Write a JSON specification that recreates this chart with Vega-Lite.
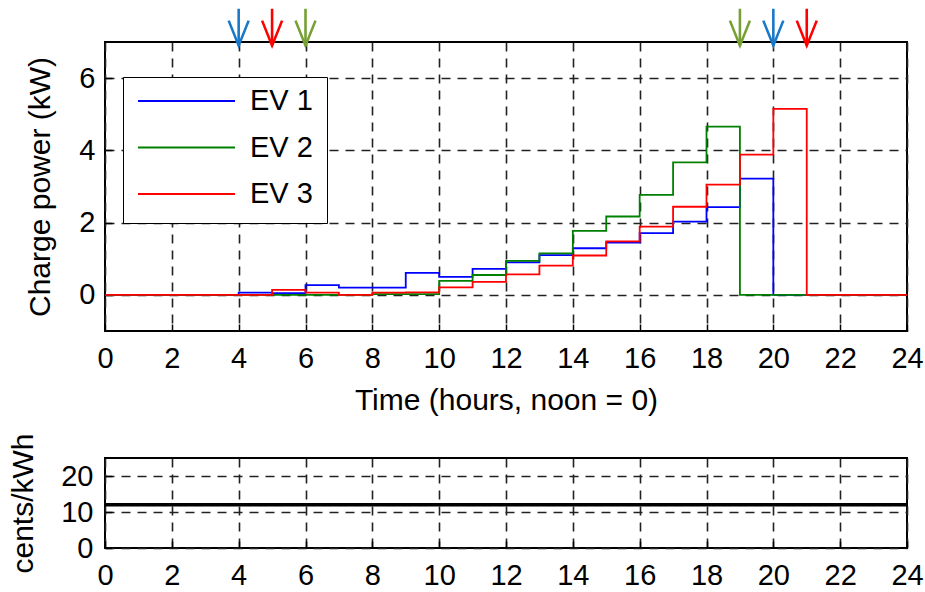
{
  "$schema": "https://vega.github.io/schema/vega-lite/v6.json",
  "padding": {"left": 7, "top": 6, "right": 0, "bottom": 0},
  "background": "white",
  "datasets": {
    "power": [
      {"hour": 0, "ev": "EV 1", "kw": 0}, {"hour": 1, "ev": "EV 1", "kw": 0}, {"hour": 2, "ev": "EV 1", "kw": 0}, {"hour": 3, "ev": "EV 1", "kw": 0},
      {"hour": 4, "ev": "EV 1", "kw": 0.06}, {"hour": 5, "ev": "EV 1", "kw": 0.05}, {"hour": 6, "ev": "EV 1", "kw": 0.27}, {"hour": 7, "ev": "EV 1", "kw": 0.2},
      {"hour": 8, "ev": "EV 1", "kw": 0.2}, {"hour": 9, "ev": "EV 1", "kw": 0.61}, {"hour": 10, "ev": "EV 1", "kw": 0.5}, {"hour": 11, "ev": "EV 1", "kw": 0.72},
      {"hour": 12, "ev": "EV 1", "kw": 0.9}, {"hour": 13, "ev": "EV 1", "kw": 1.1}, {"hour": 14, "ev": "EV 1", "kw": 1.29}, {"hour": 15, "ev": "EV 1", "kw": 1.45},
      {"hour": 16, "ev": "EV 1", "kw": 1.71}, {"hour": 17, "ev": "EV 1", "kw": 2.03}, {"hour": 18, "ev": "EV 1", "kw": 2.43}, {"hour": 19, "ev": "EV 1", "kw": 3.22},
      {"hour": 20, "ev": "EV 1", "kw": 0}, {"hour": 21, "ev": "EV 1", "kw": 0}, {"hour": 22, "ev": "EV 1", "kw": 0}, {"hour": 23, "ev": "EV 1", "kw": 0}, {"hour": 24, "ev": "EV 1", "kw": 0},
      {"hour": 0, "ev": "EV 2", "kw": 0}, {"hour": 1, "ev": "EV 2", "kw": 0}, {"hour": 2, "ev": "EV 2", "kw": 0}, {"hour": 3, "ev": "EV 2", "kw": 0},
      {"hour": 4, "ev": "EV 2", "kw": 0}, {"hour": 5, "ev": "EV 2", "kw": 0}, {"hour": 6, "ev": "EV 2", "kw": 0}, {"hour": 7, "ev": "EV 2", "kw": 0},
      {"hour": 8, "ev": "EV 2", "kw": 0.02}, {"hour": 9, "ev": "EV 2", "kw": 0.02}, {"hour": 10, "ev": "EV 2", "kw": 0.39}, {"hour": 11, "ev": "EV 2", "kw": 0.55},
      {"hour": 12, "ev": "EV 2", "kw": 0.94}, {"hour": 13, "ev": "EV 2", "kw": 1.15}, {"hour": 14, "ev": "EV 2", "kw": 1.77}, {"hour": 15, "ev": "EV 2", "kw": 2.17},
      {"hour": 16, "ev": "EV 2", "kw": 2.77}, {"hour": 17, "ev": "EV 2", "kw": 3.67}, {"hour": 18, "ev": "EV 2", "kw": 4.66}, {"hour": 19, "ev": "EV 2", "kw": 0},
      {"hour": 20, "ev": "EV 2", "kw": 0}, {"hour": 21, "ev": "EV 2", "kw": 0}, {"hour": 22, "ev": "EV 2", "kw": 0}, {"hour": 23, "ev": "EV 2", "kw": 0}, {"hour": 24, "ev": "EV 2", "kw": 0},
      {"hour": 0, "ev": "EV 3", "kw": 0}, {"hour": 1, "ev": "EV 3", "kw": 0}, {"hour": 2, "ev": "EV 3", "kw": 0}, {"hour": 3, "ev": "EV 3", "kw": 0},
      {"hour": 4, "ev": "EV 3", "kw": 0}, {"hour": 5, "ev": "EV 3", "kw": 0.14}, {"hour": 6, "ev": "EV 3", "kw": 0.06}, {"hour": 7, "ev": "EV 3", "kw": 0},
      {"hour": 8, "ev": "EV 3", "kw": 0.06}, {"hour": 9, "ev": "EV 3", "kw": 0.07}, {"hour": 10, "ev": "EV 3", "kw": 0.21}, {"hour": 11, "ev": "EV 3", "kw": 0.36},
      {"hour": 12, "ev": "EV 3", "kw": 0.57}, {"hour": 13, "ev": "EV 3", "kw": 0.81}, {"hour": 14, "ev": "EV 3", "kw": 1.09}, {"hour": 15, "ev": "EV 3", "kw": 1.48},
      {"hour": 16, "ev": "EV 3", "kw": 1.89}, {"hour": 17, "ev": "EV 3", "kw": 2.44}, {"hour": 18, "ev": "EV 3", "kw": 3.05}, {"hour": 19, "ev": "EV 3", "kw": 3.88},
      {"hour": 20, "ev": "EV 3", "kw": 5.15}, {"hour": 21, "ev": "EV 3", "kw": 0}, {"hour": 22, "ev": "EV 3", "kw": 0}, {"hour": 23, "ev": "EV 3", "kw": 0}, {"hour": 24, "ev": "EV 3", "kw": 0}
    ],
    "arrows": [
      {"hour": 4, "ev": "EV 1", "event": "arrival"},
      {"hour": 5, "ev": "EV 3", "event": "arrival"},
      {"hour": 6, "ev": "EV 2", "event": "arrival"},
      {"hour": 19, "ev": "EV 2", "event": "departure"},
      {"hour": 20, "ev": "EV 1", "event": "departure"},
      {"hour": 21, "ev": "EV 3", "event": "departure"}
    ],
    "price": [
      {"hour": 0, "price": 12},
      {"hour": 24, "price": 12}
    ]
  },
  "config": {
    "font": "Liberation Sans",
    "view": {"stroke": "black", "strokeWidth": 2},
    "axis": {
      "labelFont": "Liberation Sans",
      "titleFont": "Liberation Sans",
      "labelFontSize": 29,
      "titleFontSize": 30,
      "titleFontWeight": "normal",
      "labelColor": "black",
      "titleColor": "black",
      "labelFlush": false,
      "labelOverlap": false,
      "domain": false,
      "grid": true,
      "gridColor": "#222222",
      "gridDash": [9, 7],
      "gridWidth": 1.6,
      "gridOpacity": 1,
      "ticks": true,
      "tickColor": "black",
      "tickWidth": 1.5,
      "tickSize": -7,
      "labelPadding": 20
    },
    "legend": {
      "labelFont": "Liberation Sans",
      "labelFontSize": 29,
      "labelColor": "black"
    }
  },
  "spacing": 15,
  "vconcat": [
    {
      "width": 802,
      "height": 289,
      "resolve": {"scale": {"color": "independent"}},
      "layer": [
        {
          "data": {"name": "power"},
          "mark": {"type": "line", "interpolate": "step-after", "strokeWidth": 1.8},
          "encoding": {
            "x": {"field": "hour", "type": "quantitative", "scale": {"domain": [0, 24], "nice": false},
                  "axis": {"values": [0, 2, 4, 6, 8, 10, 12, 14, 16, 18, 20, 22, 24], "title": "Time (hours, noon = 0)", "titlePadding": 12}},
            "y": {"field": "kw", "type": "quantitative", "scale": {"domain": [-1, 7], "nice": false, "zero": false},
                  "axis": {"values": [0, 2, 4, 6], "title": "Charge power (kW)", "titlePadding": 23, "labelPadding": 17}},
            "color": {"field": "ev", "type": "nominal",
                      "scale": {"domain": ["EV 1", "EV 2", "EV 3"], "range": ["#0000ff", "#008000", "#ff0000"]},
                      "legend": {"title": null, "orient": "none", "legendX": 18, "legendY": 35,
                                 "symbolType": "stroke", "symbolSize": 9409, "symbolStrokeWidth": 2,
                                 "clipHeight": 20, "rowPadding": 17.5, "labelOffset": 14,
                                 "padding": 14, "fillColor": "white", "strokeColor": "black"}}
          }
        },
        {
          "data": {"name": "arrows"},
          "mark": {"type": "rule", "strokeWidth": 2.6, "clip": false},
          "encoding": {
            "x": {"field": "hour", "type": "quantitative", "scale": {"domain": [0, 24], "nice": false}},
            "y": {"datum": 6.9, "type": "quantitative", "scale": {"domain": [-1, 7], "nice": false, "zero": false}},
            "y2": {"datum": 7.92},
            "color": {"field": "ev", "type": "nominal",
                      "scale": {"domain": ["EV 1", "EV 2", "EV 3"], "range": ["#1a78c8", "#77a034", "#ff0000"]},
                      "legend": null}
          }
        },
        {
          "data": {"name": "arrows"},
          "mark": {"type": "point", "shape": "M -1 -2.5 L 0 0 L 1 -2.5", "filled": false, "size": 400, "strokeWidth": 2.6, "opacity": 1, "clip": false},
          "encoding": {
            "x": {"field": "hour", "type": "quantitative", "scale": {"domain": [0, 24], "nice": false}},
            "y": {"datum": 6.9, "type": "quantitative", "scale": {"domain": [-1, 7], "nice": false, "zero": false}},
            "color": {"field": "ev", "type": "nominal",
                      "scale": {"domain": ["EV 1", "EV 2", "EV 3"], "range": ["#1a78c8", "#77a034", "#ff0000"]},
                      "legend": null}
          }
        }
      ]
    },
    {
      "width": 802,
      "height": 90,
      "data": {"name": "price"},
      "mark": {"type": "line", "color": "black", "strokeWidth": 3.5},
      "encoding": {
        "x": {"field": "hour", "type": "quantitative", "scale": {"domain": [0, 24], "nice": false},
              "axis": {"values": [0, 2, 4, 6, 8, 10, 12, 14, 16, 18, 20, 22, 24], "title": null}},
        "y": {"field": "price", "type": "quantitative", "scale": {"domain": [0, 25], "nice": false},
              "axis": {"values": [0, 10, 20], "title": "cents/kWh", "titlePadding": 22, "labelPadding": 19}}
      }
    }
  ]
}
